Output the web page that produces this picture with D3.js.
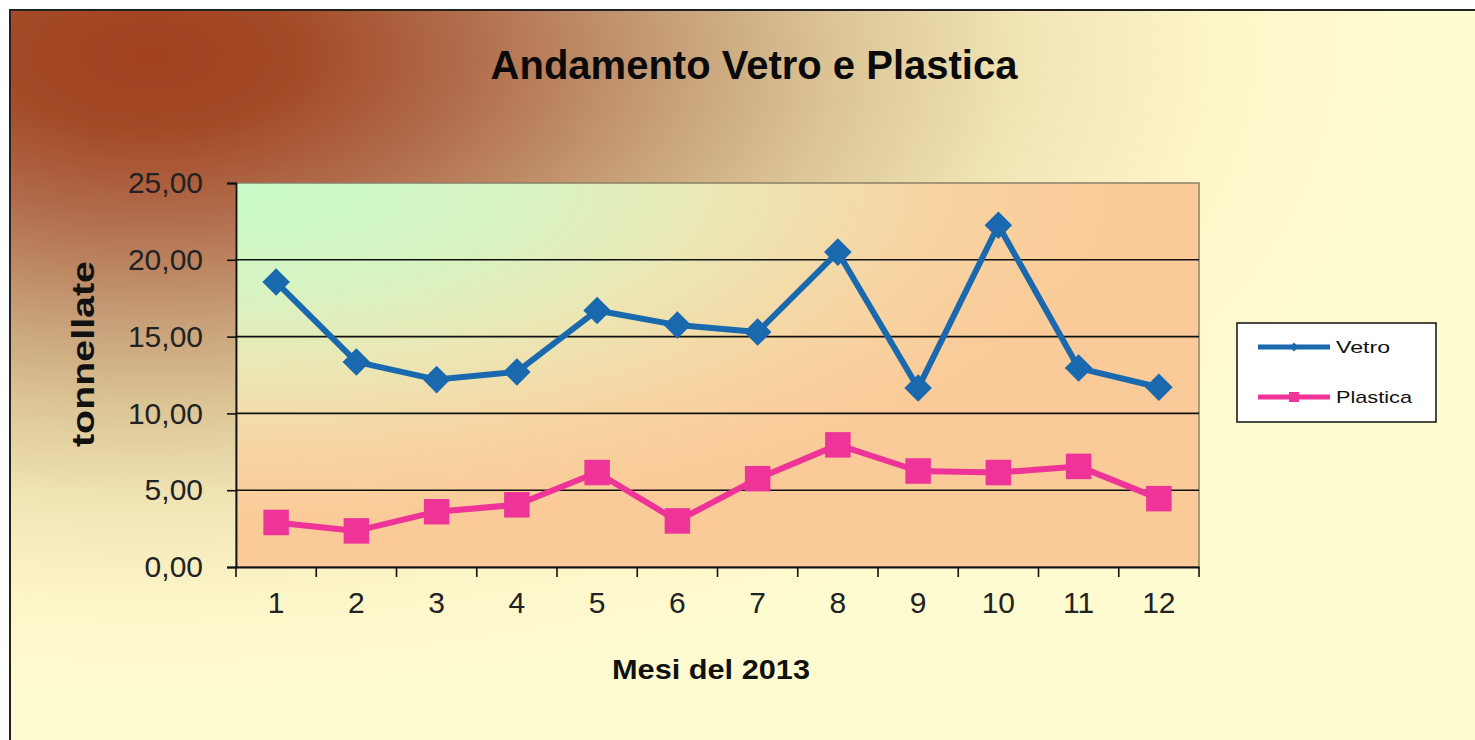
<!DOCTYPE html>
<html>
<head>
<meta charset="utf-8">
<script src="https://cdn.jsdelivr.net/npm/d3@7"></script>
<style>
  html, body { margin: 0; padding: 0; background: #ffffff; overflow: hidden; }
  svg { display: block; }
  text { font-family: "Liberation Sans", Arial, sans-serif; }
</style>
</head>
<body>
<svg id="chart" width="1475" height="740"></svg>
<script>
// ---- data ----
const months = [1, 2, 3, 4, 5, 6, 7, 8, 9, 10, 11, 12];
const vetro = [18.55, 13.35, 12.2, 12.7, 16.7, 15.75, 15.3, 20.5, 11.65, 22.25, 12.95, 11.7];
const plastica = [2.9, 2.35, 3.6, 4.05, 6.15, 3.0, 5.75, 7.95, 6.25, 6.15, 6.55, 4.45];
const yTicks = [0, 5, 10, 15, 20, 25];
const seriesNames = ["Vetro", "Plastica"];
const titleText = "Andamento Vetro e Plastica";
const xTitle = "Mesi del 2013";
const yTitle = "tonnellate";

(function () {
const svg = d3.select("#chart");
const defs = svg.append("defs");

// outer background gradient
const bg = defs.append("radialGradient")
  .attr("id", "bgGrad").attr("gradientUnits", "userSpaceOnUse")
  .attr("cx", 0).attr("cy", 0).attr("r", 1).attr("fx", 0).attr("fy", 0)
  .attr("gradientTransform", "translate(150,55) scale(1250,640)");
[[0, "#a0401f"], [0.12, "#a44a27"], [0.26, "#b26e4d"], [0.4, "#c49a74"], [0.55, "#dcc596"], [0.7, "#f1e5b6"], [0.85, "#fcf5c8"], [1, "#fffbd0"]]
  .forEach(([o, c]) => bg.append("stop").attr("offset", o).attr("stop-color", c));

// plot area gradient
const pg = defs.append("radialGradient")
  .attr("id", "plotGrad").attr("gradientUnits", "userSpaceOnUse")
  .attr("cx", 0).attr("cy", 0).attr("r", 1).attr("fx", 0).attr("fy", 0)
  .attr("gradientTransform", "translate(236,183) scale(880,340)");
[[0, "#c6fbc9"], [0.3, "#d6f4c2"], [0.55, "#ebe7b5"], [0.78, "#f7d5a3"], [1, "#facb98"]]
  .forEach(([o, c]) => pg.append("stop").attr("offset", o).attr("stop-color", c));

// outer chart area
svg.append("rect").attr("x", 10).attr("y", 10).attr("width", 1475).attr("height", 740)
  .attr("fill", "url(#bgGrad)").attr("stroke", "#222").attr("stroke-width", 2);

// scales
const pLeft = 236, pRight = 1199, pTop = 183, pBottom = 567;
const x = d3.scaleBand().domain(months).range([pLeft, pRight]).padding(0);
const y = d3.scaleLinear().domain([0, 25]).range([pBottom, pTop]);

// plot area
svg.append("rect").attr("x", pLeft).attr("y", pTop).attr("width", pRight - pLeft).attr("height", pBottom - pTop)
  .attr("fill", "url(#plotGrad)").attr("stroke", "#8c8068").attr("stroke-width", 1.5);

// gridlines
svg.append("g").selectAll("line").data(yTicks.filter(d => d > 0 && d < 25)).join("line")
  .attr("x1", pLeft).attr("x2", pRight).attr("y1", d => y(d)).attr("y2", d => y(d))
  .attr("stroke", "#111").attr("stroke-width", 1.6);

// y axis
const yAxis = svg.append("g").attr("transform", `translate(${pLeft},0)`)
  .call(d3.axisLeft(y).tickValues(yTicks).tickSize(9).tickPadding(24)
    .tickFormat(d => d3.format(".2f")(d).replace(".", ",")));
yAxis.select(".domain").attr("stroke", "#111").attr("stroke-width", 1.8);
yAxis.selectAll(".tick line").attr("stroke", "#111").attr("stroke-width", 1.6);
yAxis.selectAll(".tick text").attr("font-size", 30).attr("fill", "#222")
  .attr("font-family", "Liberation Sans, Arial, sans-serif");

// x axis (labels)
const xAxis = svg.append("g").attr("transform", `translate(0,${pBottom})`)
  .call(d3.axisBottom(x).tickSize(0).tickPadding(25));
xAxis.select(".domain").attr("stroke", "#111").attr("stroke-width", 1.8);
xAxis.selectAll(".tick text").attr("font-size", 30).attr("fill", "#222")
  .attr("font-family", "Liberation Sans, Arial, sans-serif");
// x tick marks at category boundaries
const edges = months.map(m => x(m)).concat([x(months[months.length - 1]) + x.bandwidth()]);
svg.append("g").selectAll("line").data(edges).join("line")
  .attr("x1", d => d).attr("x2", d => d).attr("y1", pBottom).attr("y2", pBottom + 10)
  .attr("stroke", "#111").attr("stroke-width", 1.6);

// lines
const cx = m => x(m) + x.bandwidth() / 2;
const lineGen = d3.line().x((d, i) => cx(months[i])).y(d => y(d));
const colV = "#1a69ae", colP = "#ee3399";

svg.append("path").datum(vetro).attr("d", lineGen).attr("fill", "none")
  .attr("stroke", colV).attr("stroke-width", 6).attr("stroke-linejoin", "round");
svg.append("path").datum(plastica).attr("d", lineGen).attr("fill", "none")
  .attr("stroke", colP).attr("stroke-width", 6).attr("stroke-linejoin", "round");

const diamond = d3.symbol().type(d3.symbolSquare).size(380);
const square = d3.symbol().type(d3.symbolSquare).size(650);

svg.append("g").selectAll("path").data(vetro).join("path")
  .attr("d", diamond)
  .attr("transform", (d, i) => `translate(${cx(months[i])},${y(d)}) rotate(45)`)
  .attr("fill", colV);
svg.append("g").selectAll("path").data(plastica).join("path")
  .attr("d", square)
  .attr("transform", (d, i) => `translate(${cx(months[i])},${y(d)})`)
  .attr("fill", colP);

// titles
svg.append("text").attr("x", 754).attr("y", 79).attr("text-anchor", "middle")
  .attr("font-size", 40).attr("font-weight", "bold").attr("fill", "#0a0a0a")
  .text(titleText);
svg.append("text").attr("x", 711).attr("y", 679).attr("text-anchor", "middle")
  .attr("font-size", 28).attr("font-weight", "bold").attr("fill", "#111")
  .attr("textLength", 198).attr("lengthAdjust", "spacingAndGlyphs")
  .text(xTitle);
svg.append("text").attr("transform", "translate(94,354) rotate(-90)").attr("text-anchor", "middle")
  .attr("font-size", 32).attr("font-weight", "bold").attr("fill", "#111")
  .attr("textLength", 186).attr("lengthAdjust", "spacingAndGlyphs")
  .text(yTitle);

// legend
const lg = svg.append("g");
lg.append("rect").attr("x", 1237).attr("y", 323).attr("width", 199).attr("height", 99)
  .attr("fill", "#ffffff").attr("stroke", "#111").attr("stroke-width", 1.5);
const legendRows = [
  { name: seriesNames[0], color: colV, y: 347, sym: d3.symbol().type(d3.symbolSquare).size(40), rot: 45 },
  { name: seriesNames[1], color: colP, y: 397, sym: d3.symbol().type(d3.symbolSquare).size(100), rot: 0 }
];
legendRows.forEach(r => {
  lg.append("line").attr("x1", 1258).attr("x2", 1330).attr("y1", r.y).attr("y2", r.y)
    .attr("stroke", r.color).attr("stroke-width", 5);
  lg.append("path").attr("d", r.sym).attr("fill", r.color)
    .attr("transform", `translate(1294,${r.y}) rotate(${r.rot})`);
  lg.append("text").attr("x", 1336).attr("y", r.y).attr("dy", "0.35em")
    .attr("font-size", 17).attr("fill", "#111")
    .attr("textLength", r.name === "Vetro" ? 54 : 76).attr("lengthAdjust", "spacingAndGlyphs")
    .text(r.name);
});
})();
</script>
</body>
</html>
